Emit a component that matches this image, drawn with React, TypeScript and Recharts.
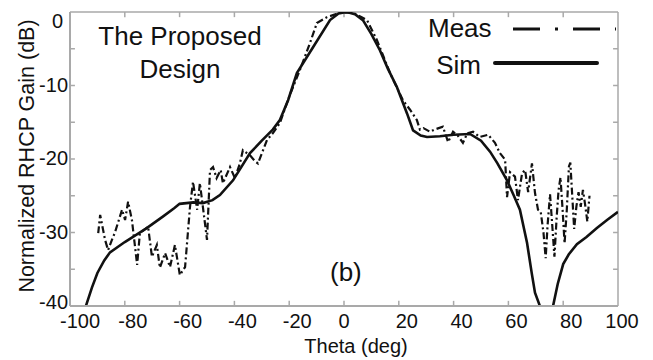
import React from "react";
import { LineChart, Line, XAxis, YAxis, ReferenceLine } from "recharts";

const xTicks = [-100, -80, -60, -40, -20, 0, 20, 40, 60, 80, 100];
const yTicks = [-40, -30, -20, -10, 0];
const xMinorTicks = [-80, -60, -40, -20, 0, 20, 40, 60, 80];
const yMinorTicks = [-35, -30, -25, -20, -15, -10, -5];

const simTheta = [-97, -94.2, -92, -90, -87.5, -85.4, -80, -77, -72, -66, -62, -60, -55, -51.5, -48, -45.3, -40.5, -34.3, -30, -26, -23.4, -20.4, -17.2, -11.3, -5.1, -2, 1, 4, 6.9, 10, 13.1, 16, 19.3, 23, 25.2, 28, 30.3, 35, 40, 46, 50, 53.3, 56, 59.5, 62, 64.2, 66.8, 68.5, 69.7, 71.5, 73, 75, 76.3, 78, 80, 82, 85, 88.5, 92.3, 96, 100];
const simGain = [-44, -40, -37.5, -35.5, -33.8, -32.7, -31.3, -30.6, -29.4, -27.8, -26.7, -26.1, -25.9, -26.0, -25.6, -24.9, -22.9, -19.2, -17.5, -16, -14.7, -12, -8.3, -4.8, -1.1, -0.2, 0, -0.3, -1.1, -3, -5.2, -7.7, -10.2, -13.8, -16.1, -16.8, -17, -16.9, -16.7, -16.6, -17.5, -19, -20.6, -22.9, -25, -26.9, -31.4, -35.5, -38.2, -40, -44, -44, -40, -37, -34.3, -33, -31.6, -30.6, -29.4, -28.3, -27.2];

const measTheta = [-89.7, -89, -87.2, -86.1, -84.7, -83.6, -81, -79.9, -78.8, -77.4, -75.5, -74.5, -71.5, -70.1, -68.3, -67.2, -65.3, -63.5, -61.7, -59.9, -58, -56.2, -55.1, -53.6, -52.6, -51.5, -50, -48.9, -47.8, -46.5, -45, -44.2, -41.6, -39.8, -38, -36.9, -34.3, -32.5, -31.4, -28.1, -26, -23.4, -20, -16.1, -12.4, -9.9, -6.2, -1.5, 3.3, 8.4, 12, 16.8, 21.5, 24.1, 26.6, 27.7, 29, 31.4, 33, 36.1, 38, 39.8, 41.5, 43.4, 45, 47.1, 49.6, 52.6, 55.1, 56.9, 58.8, 59.5, 60.6, 62.4, 63.5, 65, 66.1, 67.2, 68.6, 69.7, 70.8, 71.8, 72.8, 73.6, 74.3, 75.2, 76, 76.8, 77.6, 78.3, 79, 79.8, 80.5, 81.3, 82.1, 82.6, 83.3, 84, 84.8, 85.6, 86.4, 87.2, 88, 88.8, 89.6];
const measGain = [-30.1, -27.6, -31.0, -32.4, -31, -30, -26.9, -28.3, -25.8, -28.3, -34.4, -30.1, -29.2, -33.3, -31.7, -34.8, -32.8, -34.7, -31.7, -35.8, -34.7, -26.5, -23.1, -26.9, -23.3, -26.5, -31, -21.5, -21.1, -22.6, -21.5, -23.3, -21.1, -22.6, -20.6, -18.8, -19.5, -20.3, -20.6, -17.4, -16.5, -15.1, -11.5, -7.9, -4.2, -1.5, -0.7, -0.1, -0.1, -1.1, -3.8, -8.3, -12, -13.3, -14.7, -16, -15.8, -16.3, -16, -15.6, -17.7, -16.3, -16.8, -17.8, -16.5, -16.3, -17, -16.7, -17.8, -19.2, -20.1, -25.2, -21.8, -22.4, -25.6, -21.9, -21.5, -24.5, -20.6, -24.6, -26.9, -27.2, -30, -33.5, -29, -24.8, -29, -33.3, -28, -24.3, -22.5, -27, -31.5, -27, -21, -20.5, -25, -29.5, -26.5, -24.5, -26.5, -24.2, -26.2, -28.5, -25];

const simData = simTheta.map((t, i) => ({ theta: t, gain: simGain[i] }));
const measData = measTheta.map((t, i) => ({ theta: t, gain: measGain[i] }));

const FONT = "'Liberation Sans', Arial, Helvetica, sans-serif";
const AXIS = "#a9a9a9";

const XTick = (props: any) => {
  const { x, y, payload } = props;
  const v = payload.value;
  const dx = v === 0 ? 0 : v === 100 ? 4 : v === -100 ? 10 : 8;
  return (
    <text x={x + dx} y={y} dy={14} textAnchor="middle" fontSize={20} fontFamily={FONT} fill="#111">
      {v}
    </text>
  );
};

const YTick = (props: any) => {
  const { x, y, payload } = props;
  const v = payload.value;
  const isZero = v === 0;
  const dy = isZero ? 16 : v === -40 ? 3 : 6;
  return (
    <text x={x + (isZero ? 1 : 6)} y={y + dy} textAnchor="end" fontSize={20} fontFamily={FONT} fill="#111">
      {v}
    </text>
  );
};

export default function App() {
  return (
    <div style={{ position: "absolute", left: 0, top: 0, width: 653, height: 360, background: "#fff" }}>
      <LineChart width={653} height={360} data={simData} margin={{ top: 12, right: 35, bottom: 0, left: 0 }}>
        <XAxis
          dataKey="theta"
          type="number"
          domain={[-100, 100]}
          ticks={xTicks}
          tick={<XTick />}
          tickLine={false}
          axisLine={{ stroke: AXIS, strokeWidth: 2 }}
          height={54}
          allowDataOverflow
        />
        <YAxis
          dataKey="gain"
          type="number"
          domain={[-40, 0]}
          ticks={yTicks}
          tick={<YTick />}
          tickLine={false}
          axisLine={{ stroke: AXIS, strokeWidth: 2 }}
          width={70}
          allowDataOverflow
        />
        <ReferenceLine y={0} stroke={AXIS} strokeWidth={1.5} />
        <ReferenceLine x={100} stroke={AXIS} strokeWidth={1.5} />
        {xMinorTicks.map((t) => (
          <ReferenceLine key={"xb" + t} segment={[{ x: t, y: -40 }, { x: t, y: -39.3 }]} stroke={AXIS} strokeWidth={1.5} />
        ))}
        {xMinorTicks.map((t) => (
          <ReferenceLine key={"xt" + t} segment={[{ x: t, y: 0 }, { x: t, y: -0.7 }]} stroke={AXIS} strokeWidth={1.5} />
        ))}
        {yMinorTicks.map((t) => (
          <ReferenceLine key={"yl" + t} segment={[{ x: -100, y: t }, { x: -98.2, y: t }]} stroke={AXIS} strokeWidth={1.5} />
        ))}
        {yMinorTicks.map((t) => (
          <ReferenceLine key={"yr" + t} segment={[{ x: 100, y: t }, { x: 98.2, y: t }]} stroke={AXIS} strokeWidth={1.5} />
        ))}
        <Line
          data={measData}
          dataKey="gain"
          type="linear"
          stroke="#111"
          strokeWidth={2.2}
          strokeDasharray="7 3 2 3"
          dot={false}
          isAnimationActive={false}
        />
        <Line
          data={simData}
          dataKey="gain"
          type="linear"
          stroke="#111"
          strokeWidth={2.6}
          dot={false}
          isAnimationActive={false}
        />
      </LineChart>
      <svg width={653} height={360} style={{ position: "absolute", left: 0, top: 0, pointerEvents: "none" }}>
        <g fontFamily={FONT} fill="#111">
          <text x={180} y={45} fontSize={26} textAnchor="middle">The Proposed</text>
          <text x={180} y={78} fontSize={26} textAnchor="middle">Design</text>
          <text x={428} y={37} fontSize={26}>Meas</text>
          <text x={481} y={74} fontSize={26} textAnchor="end">Sim</text>
          <text x={330} y={281} fontSize={26}>(b)</text>
          <text x={356} y={353} fontSize={20} textAnchor="middle">Theta (deg)</text>
          <text transform="translate(34,156) rotate(-90)" fontSize={21.5} textAnchor="middle">Normalized RHCP Gain (dB)</text>
        </g>
        <line x1={513} y1={29} x2={616} y2={29} stroke="#111" strokeWidth={3} strokeDasharray="27 15 3 15" />
        <line x1={495} y1={63} x2={597} y2={63} stroke="#111" strokeWidth={4} strokeLinecap="round" />
      </svg>
    </div>
  );
}
